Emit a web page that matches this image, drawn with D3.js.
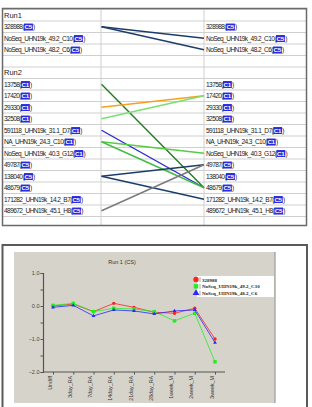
<!DOCTYPE html>
<html>
<head>
<meta charset="utf-8">
<script src="https://cdn.jsdelivr.net/npm/d3@7"></script>
<style>
body { margin: 0; background: #fff; }
svg { display: block; font-family: "Liberation Sans", Arial, sans-serif; }
</style>
</head>
<body>
<div id="chart"></div>
<script>
// table rows (left and right columns share the same labels)
const rowNames = ["Run1", "328988", "NoSeq_UHN19k_49.2_C10", "NoSeq_UHN19k_48.2_C6", "",
    "Run2", "13758", "17420", "29330", "32508", "591118_UHN19k_31.1_D7", "NA_UHN19k_24.3_C10",
    "NoSeq_UHN19k_40.3_G12", "49787", "138040", "48679", "171282_UHN19k_14.2_B7", "489672_UHN19k_45.1_H8"];
const rowTags = ["", "C5", "C5", "C5", "", "", "C1", "C1", "C1", "C1", "C1", "C1", "C1",
    "C5", "C5", "C5", "C5", "C5"];

// links: left row -> right row
const linkFrom = [1, 1, 6, 8, 9, 10, 11, 11, 14, 14, 17];
const linkTo = [2, 3, 15, 7, 7, 15, 12, 15, 13, 16, 13];
const linkColor = ["#1c3d6b", "#1c3d6b", "#237a23", "#f5a020", "#77e070", "#2a2ad0",
    "#55cc44", "#44bb44", "#1c3d6b", "#1c3d6b", "#7a7a7a"];

// line chart
const categories = ["Undiff", "3day_RA", "7day_RA", "14day_RA", "21day_RA", "28day_RA",
    "1week_M", "2week_M", "3week_M"];
const seriesNames = ["328988", "NoSeq_UHN19k_49.2_C10", "NoSeq_UHN19k_48.2_C6"];
const red = [0.0, 0.06, -0.17, 0.08, -0.04, -0.19, -0.22, -0.07, -1.0];
const green = [0.02, 0.08, -0.17, -0.07, -0.09, -0.17, -0.45, -0.22, -1.69];
const blue = [-0.04, 0.02, -0.3, -0.12, -0.15, -0.24, -0.15, -0.12, -1.11];
const yTicks = [1, 0, -1, -2];

const W = 312, H = 407;
const svg = d3.select("#chart").append("svg")
    .attr("width", W)
    .attr("height", H);

// ---------- top table ----------
let tableTop = 9.5, rowH = 11.5;
let colL = 2.5, colM1 = 101, colM2 = 204, colR = 306.5;

let yRow = d3.scaleBand()
    .domain(d3.range(rowNames.length))
    .range([tableTop, tableTop + rowH * rowNames.length]);

let tableBottom = 225.5;

let tg = svg.append("g");

tg.selectAll("line.row")
    .data(d3.range(rowNames.length + 1))
    .enter()
    .append("line")
    .attr("x1", colL).attr("x2", colR)
    .attr("y1", d => d < rowNames.length ? yRow(d) : yRow(d - 1) + rowH)
    .attr("y2", d => d < rowNames.length ? yRow(d) : yRow(d - 1) + rowH)
    .attr("stroke", "#cfcfcf")
    .attr("stroke-width", 1);

[colM1, colM2].forEach(x => {
    tg.append("line")
        .attr("x1", x).attr("x2", x)
        .attr("y1", tableTop).attr("y2", tableBottom)
        .attr("stroke", "#cfcfcf");
});

tg.append("rect")
    .attr("x", colL).attr("y", tableTop - 1)
    .attr("width", colR - colL).attr("height", tableBottom - tableTop + 1)
    .attr("fill", "none")
    .attr("stroke", "#6a6a6a")
    .attr("stroke-width", 1.5);

function addLabel(x, i) {
    let cy = yRow(i) + rowH / 2 + 2.4;
    let name = rowNames[i];
    let tag = rowTags[i];
    if (!name) return;
    let isHead = tag === "";
    let t = tg.append("text")
        .attr("x", x).attr("y", cy)
        .attr("font-size", isHead ? "7.5px" : "6.6px")
        .attr("letter-spacing", isHead ? "0" : "-0.6px")
        .attr("fill", "#1a1a1a")
        .text(isHead ? name : name + "(");
    if (isHead) return;
    let w = t.node().getComputedTextLength();
    let bx = x + w;
    let tag_t = tg.append("text")
        .attr("x", bx + 0.6).attr("y", cy)
        .attr("font-size", "6.2px")
        .attr("font-weight", "bold")
        .attr("letter-spacing", "-0.3px")
        .attr("fill", "#fff")
        .text(tag);
    let tw = tag_t.node().getComputedTextLength();
    tg.insert("rect", function () { return tag_t.node(); })
        .attr("x", bx).attr("y", cy - 5.6)
        .attr("width", tw + 1.6).attr("height", 7)
        .attr("fill", "#2a2ae0");
    tg.append("text")
        .attr("x", bx + tw + 1.8).attr("y", cy)
        .attr("font-size", "6.6px")
        .attr("fill", "#1a1a1a")
        .text(")");
}

rowNames.forEach((d, i) => {
    addLabel(4, i);
    if (rowTags[i] !== "") addLabel(206, i);
});

tg.selectAll("line.link")
    .data(linkFrom)
    .enter()
    .append("line")
    .attr("x1", colM1 + 0.5)
    .attr("y1", (d, i) => yRow(d) + rowH / 2)
    .attr("x2", colM2)
    .attr("y2", (d, i) => yRow(linkTo[i]) + rowH / 2)
    .attr("stroke", (d, i) => linkColor[i])
    .attr("stroke-width", 1.4);

// ---------- bottom chart ----------
let bg = svg.append("g");

bg.append("rect")
    .attr("x", 2.5).attr("y", 245)
    .attr("width", 304.5).attr("height", 170)
    .attr("fill", "#fff")
    .attr("stroke", "#5a5a5a")
    .attr("stroke-width", 2);

bg.append("rect")
    .attr("x", 14).attr("y", 252)
    .attr("width", 261).attr("height", 151)
    .attr("fill", "#d6d3cb");

bg.append("line")
    .attr("x1", 275).attr("x2", 275)
    .attr("y1", 252).attr("y2", 403)
    .attr("stroke", "#9a9a9a")
    .attr("stroke-width", 1.2);

bg.append("text")
    .attr("x", 122).attr("y", 264)
    .attr("text-anchor", "middle")
    .attr("font-size", "5.5px")
    .attr("fill", "#333")
    .text("Run 1 (CS)");

let yScale = d3.scaleLinear()
    .domain([-2, 1])
    .range([372, 273]);

let xScale = d3.scalePoint()
    .domain(categories)
    .range([53, 215]);

let yaxis = bg.append("g")
    .attr("transform", "translate(43,0)")
    .call(d3.axisLeft(yScale).tickValues(d3.range(-2, 1.01, 0.5)).tickSize(2.5)
        .tickFormat(d => yTicks.includes(d) ? d3.format(".1f")(d) : ""));

yaxis.select(".domain").attr("stroke", "#555").attr("stroke-width", 1.2);
yaxis.selectAll(".tick line").attr("stroke", "#555");
yaxis.selectAll(".tick text")
    .attr("font-size", "5.5px")
    .attr("fill", "#444")
    .attr("x", -3.5);

let xaxis = bg.append("g")
    .attr("transform", "translate(0,372)")
    .call(d3.axisBottom(xScale).tickSize(2.5));

xaxis.select(".domain")
    .attr("d", "M43,0H225")
    .attr("stroke", "#555").attr("stroke-width", 1.2);
xaxis.selectAll(".tick line").attr("stroke", "#555");
xaxis.selectAll(".tick text")
    .attr("font-size", "5.3px")
    .attr("fill", "#333")
    .attr("transform", "rotate(-90)")
    .attr("text-anchor", "end")
    .attr("x", -4)
    .attr("y", -2)
    .attr("dy", "0");

let series = [
    {name: seriesNames[0], values: red, color: "#ff2020", sym: d3.symbolCircle, size: 9},
    {name: seriesNames[1], values: green, color: "#22ee22", sym: d3.symbolSquare, size: 12},
    {name: seriesNames[2], values: blue, color: "#2828ff", sym: d3.symbolTriangle, size: 6}
];

let line = d3.line()
    .x((d, i) => xScale(categories[i]))
    .y(d => yScale(d));

series.forEach(s => {
    bg.append("path")
        .attr("d", line(s.values))
        .attr("fill", "none")
        .attr("stroke", s.color)
        .attr("stroke-width", 0.8);
    bg.selectAll(null)
        .data(s.values)
        .enter()
        .append("path")
        .attr("d", d3.symbol().type(s.sym).size(s.size))
        .attr("transform", (d, i) => "translate(" + xScale(categories[i]) + "," + yScale(d) + ")")
        .attr("fill", s.color);
});

// legend
let lg = bg.append("g").attr("transform", "translate(197,276)");
lg.append("rect")
    .attr("x", 0).attr("y", 0)
    .attr("width", 77).attr("height", 21)
    .attr("fill", "#fff");

series.forEach((s, i) => {
    lg.append("path")
        .attr("d", d3.symbol().type(s.sym).size(i === 0 ? 22 : 20))
        .attr("transform", "translate(-1," + (3.5 + i * 6.8) + ")")
        .attr("fill", s.color);
    lg.append("line")
        .attr("x1", 3).attr("x2", 3)
        .attr("y1", 1 + i * 6.8).attr("y2", 6 + i * 6.8)
        .attr("stroke", "#555")
        .attr("stroke-width", 0.5);
    lg.append("text")
        .attr("x", 5).attr("y", 5.5 + i * 6.8)
        .attr("font-family", "'Liberation Serif', serif")
        .attr("font-size", "5px")
        .attr("font-weight", "bold")
        .attr("fill", "#222")
        .text(s.name);
});
</script>
</body>
</html>
